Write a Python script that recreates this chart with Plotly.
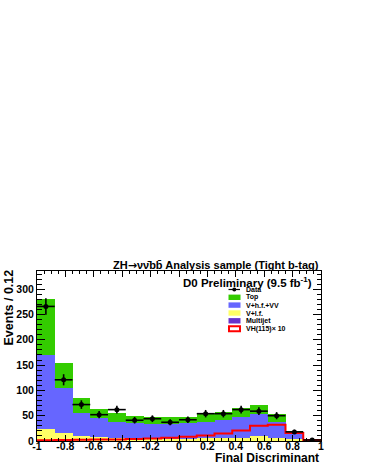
import numpy as np
import plotly.graph_objects as go

# 16 bins of width 0.125 from -1 to 1
bin_lo = [-1.0, -0.875, -0.75, -0.625, -0.5, -0.375, -0.25, -0.125,
          0.0, 0.125, 0.25, 0.375, 0.5, 0.625, 0.75, 0.875]
bin_width = 0.125

# stacked backgrounds (individual contributions)
multijet = [0.4, 0.3, 0.3, 0.3, 0.2, 0.2, 0.2, 0.2, 0.2, 0.2, 0.2, 0.2, 0.3, 0.2, 0.1, 0.1]
v_lf = [23.6, 14.7, 9.7, 6.7, 4.8, 3.8, 2.8, 2.8, 3.8, 4.8, 4.8, 5.8, 8.7, 5.8, 2.9, 0.9]
v_hf_vv = [145, 89, 46, 38, 33, 32, 30, 31, 32, 33, 37, 42, 44, 32, 14, 2]
top = [112, 51, 29, 19, 17, 14, 15, 14, 12, 17, 16, 18, 18, 15, 3, 0]

# VH(115) x 10 signal
vh115_x10 = [1.5, 2, 2.5, 3, 3, 4, 5, 6.6, 8.6, 11, 15, 21, 30, 32, 16, 2]

# data
data = [266, 121, 72, 52, 62, 41, 44, 37, 42, 54, 54, 62, 59, 50, 18, 2]

x_tickvals = [-1, -0.8, -0.6, -0.4, -0.2, 0, 0.2, 0.4, 0.6, 0.8, 1]
x_ticktext = ["-1", "-0.8", "-0.6", "-0.4", "-0.2", "0", "0.2", "0.4", "0.6", "0.8", "1"]
y_tickvals = [0, 50, 100, 150, 200, 250, 300]

GREEN = "#33cc00"
BLUE = "#6666ff"
YELLOW = "#ffff66"
PURPLE = "#6633cc"
RED = "#ff0000"
FONT = "Liberation Sans"

centers = np.array(bin_lo) + bin_width / 2
edges = list(bin_lo) + [bin_lo[-1] + bin_width]

fig = go.Figure()
for name, vals, col in [("Multijet", multijet, PURPLE), ("V+l.f.", v_lf, YELLOW),
                        ("V+h.f.+VV", v_hf_vv, BLUE), ("Top", top, GREEN)]:
    fig.add_trace(go.Bar(x=centers, y=vals, width=bin_width, name=name,
                         marker=dict(color=col, line=dict(width=0))))

fig.add_trace(go.Scatter(x=edges, y=vh115_x10 + [vh115_x10[-1]], mode="lines",
                         line=dict(color=RED, width=2, shape="hv"), name="VH(115)x10"))

fig.add_trace(go.Scatter(
    x=centers, y=data, mode="markers", name="Data",
    marker=dict(color="black", size=5),
    error_y=dict(type="data", array=np.sqrt(data), color="black", thickness=1.6, width=0),
    error_x=dict(type="constant", value=bin_width / 2, color="black", thickness=1.6, width=0),
))

fig.update_layout(
    width=365, height=473,
    margin=dict(l=37, r=44, t=271, b=32, autoexpand=False),
    paper_bgcolor="white", plot_bgcolor="white",
    barmode="stack", bargap=0, showlegend=False,
    font=dict(family=FONT, color="black", size=10.5, weight="bold"),
)
fig.update_xaxes(
    range=[-1, 1], tickvals=x_tickvals, ticktext=x_ticktext,
    ticks="inside", ticklen=6, tickwidth=1, tickcolor="black",
    minor=dict(ticks="inside", dtick=0.05, ticklen=3, tickcolor="black"),
    showline=True, linecolor="black", linewidth=1, mirror="ticks",
    showgrid=False, zeroline=False, automargin=False, ticklabelstandoff=-5,
    tickfont=dict(size=10.5, family=FONT, weight="bold"),
)
fig.update_yaxes(
    range=[0, 336], tickvals=y_tickvals,
    ticks="inside", ticklen=8, tickwidth=1, tickcolor="black",
    minor=dict(ticks="inside", dtick=10, ticklen=4.5, tickcolor="black"),
    showline=True, linecolor="black", linewidth=1, mirror="ticks",
    showgrid=False, zeroline=False, automargin=False,
    tickfont=dict(size=10.5, family=FONT, weight="bold"),
)

def px_x(p):
    return (p - 37) / 284.0

def px_y(p):
    return (441 - p) / 170.0

arrow = "<span style='font-family:DejaVu Sans'>\u2192</span>"
ann = [
    dict(text="ZH" + arrow + "\u03bd\u03bd\u0304bb\u0304 Analysis sample (Tight b-tag)", x=1.0, y=px_y(265),
         xanchor="right", yanchor="middle", font=dict(size=11)),
    dict(text="D0 Preliminary (9.5 fb<sup>-1</sup>)", x=px_x(314), y=px_y(282),
         xanchor="right", yanchor="middle", font=dict(size=11.5)),
    dict(text="Events / 0.12", x=px_x(8.5), y=px_y(308), textangle=-90,
         xanchor="center", yanchor="middle", font=dict(size=12.5)),
    dict(text="Final Discriminant", x=px_x(321), y=px_y(458),
         xanchor="right", yanchor="middle", font=dict(size=12)),
]

# hand-drawn legend (ROOT style, compact rows)
legend_rows = [("Data", None), ("Top", GREEN), ("V+h.f.+VV", BLUE),
               ("V+l.f.", YELLOW), ("Multijet", PURPLE), ("VH(115)\u00d7 10", "outline")]
shapes = []
row_y = [289.5, 297.3, 305.1, 313, 320.8, 328.7]
for (label, col), yy in zip(legend_rows, row_y):
    if col is None:
        shapes.append(dict(type="line", xref="paper", yref="paper",
                           x0=px_x(228.5), x1=px_x(240), y0=px_y(yy), y1=px_y(yy),
                           line=dict(color="black", width=1.2)))
        shapes.append(dict(type="circle", xref="paper", yref="paper",
                           x0=px_x(232.3), x1=px_x(236.3), y0=px_y(yy + 2), y1=px_y(yy - 2),
                           fillcolor="black", line=dict(color="black", width=0)))
    elif col == "outline":
        shapes.append(dict(type="rect", xref="paper", yref="paper",
                           x0=px_x(229), x1=px_x(240), y0=px_y(yy + 2.5), y1=px_y(yy - 2.5),
                           fillcolor="white", line=dict(color=RED, width=2)))
    else:
        shapes.append(dict(type="rect", xref="paper", yref="paper",
                           x0=px_x(228.5), x1=px_x(240.5), y0=px_y(yy + 2.7), y1=px_y(yy - 2.7),
                           fillcolor=col, line=dict(width=0)))
    ann.append(dict(text=label, x=px_x(243.5), y=px_y(yy), xanchor="left", yanchor="middle",
                    font=dict(size=7)))

for a in ann:
    a.setdefault("xref", "paper")
    a.setdefault("yref", "paper")
    a["showarrow"] = False
fig.update_layout(annotations=ann, shapes=shapes)

# drop the browser's default 8px body margin so the figure sits at the page corner
fig.write_html("out.html", config={"displayModeBar": False},
               post_script="document.body.style.margin='0';")
